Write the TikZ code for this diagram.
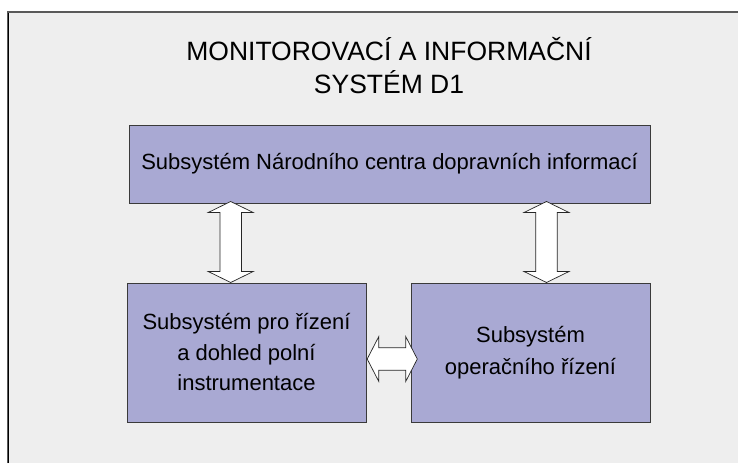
\documentclass[tikz,border=0pt]{standalone}
\usepackage{fontspec}
\setmainfont{Liberation Sans}
\usetikzlibrary{calc}
\definecolor{bgc}{HTML}{EEEEEE}
\definecolor{boxc}{HTML}{A9A9D3}
\definecolor{edgec}{HTML}{3A3A3A}
\tikzset{
  sysbox/.style={draw=edgec, line width=1pt, fill=boxc, inner sep=0pt, align=center,
    font=\fontsize{22}{30.5}\selectfont},
  darrow/.style={draw=black!85, line width=0.7pt, fill=white, line join=miter},
}
\begin{document}
\begin{tikzpicture}[x=1pt,y=-1pt]
\useasboundingbox (0,0) rectangle (738,463);
\fill[white] (0,0) rectangle (738,463);
\fill[bgc] (8,12) rectangle (738,463);
\draw[black!65, line width=1.5pt] (8,463) -- (8,12) -- (738,12);
\draw[black, line width=1pt] (8,463) -- (8,12.5);

\node (title) [align=center, font=\fontsize{26.5}{33}\selectfont] at (389,66)
  {MONITOROVACÍ A INFORMAČNÍ\\SYSTÉM D1};

\node (top) [sysbox, minimum width=521, minimum height=78] at (389.5,164)
  {Subsystém Národního centra dopravních informací};
\node (left) [sysbox, minimum width=239, minimum height=139] at (246.5,352.5)
  {Subsystém pro řízení\\a dohled polní\\instrumentace};
\node (right) [sysbox, minimum width=239, minimum height=139] at (530.5,352.5)
  {Subsystém\\[1.5pt]operačního řízení};

\coordinate (ax1) at (230.7,0);
\coordinate (ax2) at (546.5,0);
\coordinate (ay) at (0,359);

% vertical double arrows between top box and lower boxes
\foreach \c in {ax1,ax2}{
  \path (\c |- top.south) coordinate (t) ++(0,-2) coordinate (t);
  \path (\c |- left.north) coordinate (b);
  \draw[darrow] (t) -- ($(t)+(22.5,11)$) -- ($(t)+(10.8,11)$) -- ($(b)+(10.8,-11)$)
    -- ($(b)+(22.5,-11)$) -- (b) -- ($(b)+(-22.5,-11)$) -- ($(b)+(-10.8,-11)$)
    -- ($(t)+(-10.8,11)$) -- ($(t)+(-22.5,11)$) -- cycle;
}
% horizontal double arrow between the lower boxes
\path ($(left.east |- ay)+(0.7,0)$) coordinate (l);
\path ($(right.west |- ay)+(6.8,0)$) coordinate (r);
\draw[darrow] (l) -- ($(l)+(11.6,-22.5)$) -- ($(l)+(11.6,-11.3)$) -- ($(r)+(-11.6,-11.3)$)
  -- ($(r)+(-11.6,-22.5)$) -- (r) -- ($(r)+(-11.6,22.5)$) -- ($(r)+(-11.6,11.3)$)
  -- ($(l)+(11.6,11.3)$) -- ($(l)+(11.6,22.5)$) -- cycle;
\end{tikzpicture}
\end{document}
